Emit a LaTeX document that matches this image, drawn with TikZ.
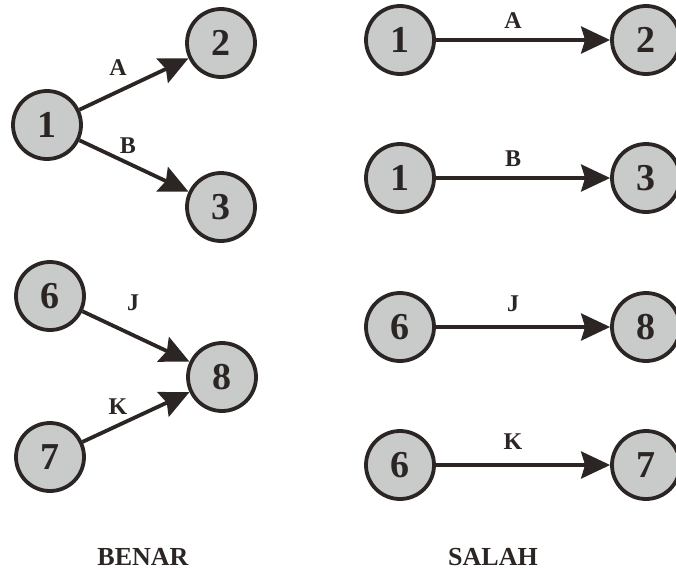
\documentclass[tikz,border=0pt]{standalone}
\usepackage{fontspec}
\setmainfont{Liberation Serif}
\usetikzlibrary{arrows.meta}
\definecolor{ev}{HTML}{C9CACA}
\definecolor{ink}{HTML}{2B2523}
\tikzset{
  ev/.style={circle, draw=ink, fill=ev, line width=3.8pt, minimum size=68pt, inner sep=0pt,
    font=\fontsize{38}{38}\selectfont\bfseries, text=ink},
  act/.style={draw=ink, line width=3.8pt, -{Stealth[length=29pt,width=27pt,inset=4pt]}},
  lab/.style={font=\fontsize{24}{24}\selectfont\bfseries, text=ink, inner sep=0pt},
  title/.style={font=\fontsize{26}{26}\selectfont\bfseries, text=ink, inner sep=0pt}
}
\begin{document}
\begin{tikzpicture}[x=1pt,y=-1pt]
\useasboundingbox (0,0) rectangle (676,573);
% BENAR
\node[ev] (b1) at (47,125) {1};
\node[ev] (b2) at (221,43) {2};
\node[ev] (b3) at (221,207) {3};
\node[ev] (b6) at (50,296) {6};
\node[ev] (b8) at (222,377) {8};
\node[ev] (b7) at (50,457) {7};
\draw[act] (b1) -- (b2);
\draw[act] (b1) -- (b3);
\draw[act] (b6) -- (b8);
\draw[act] (b7) -- (b8);
\node[lab] (lA) at (118,68) {A};
\node[lab] (lB) at (128,146) {B};
\node[lab] (lJ) at (133,303) {J};
\node[lab] (lK) at (118,407) {K};
% SALAH
\node[ev] (s1) at (400,40) {1};
\node[ev] (s2) at (646,40) {2};
\node[ev] (s1b) at (400,178) {1};
\node[ev] (s3) at (646,178) {3};
\node[ev] (s6) at (400,327) {6};
\node[ev] (s8) at (646,327) {8};
\node[ev] (s6b) at (400,465) {6};
\node[ev] (s7) at (646,465) {7};
\draw[act] (s1) -- (s2);
\draw[act] (s1b) -- (s3);
\draw[act] (s6) -- (s8);
\draw[act] (s6b) -- (s7);
\node[lab] (rA) at (513,21) {A};
\node[lab] (rB) at (513,159) {B};
\node[lab] (rJ) at (513,304) {J};
\node[lab] (rK) at (513,442) {K};
\node[title] (benar) at (143,557) {BENAR};
\node[title] (salah) at (493,557) {SALAH};
\end{tikzpicture}
\end{document}
